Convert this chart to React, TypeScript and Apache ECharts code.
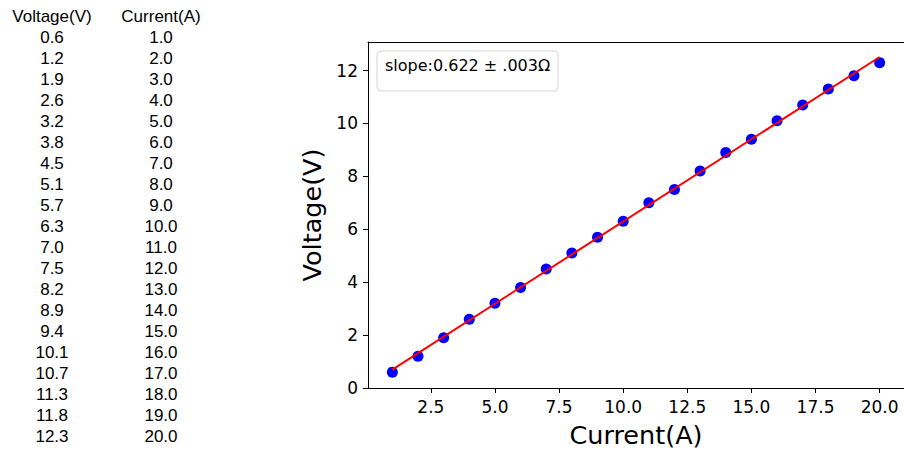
import React, { useEffect, useRef } from "react";
import * as echarts from "echarts";

const currents = [1, 2, 3, 4, 5, 6, 7, 8, 9, 10, 11, 12, 13, 14, 15, 16, 17, 18, 19, 20];
const voltages = [0.6, 1.2, 1.9, 2.6, 3.2, 3.8, 4.5, 5.1, 5.7, 6.3, 7.0, 7.5, 8.2, 8.9, 9.4, 10.1, 10.7, 11.3, 11.8, 12.3];
const fitX = [1, 20];
const fitY = [0.696, 12.514];
const xTicks = [2.5, 5, 7.5, 10, 12.5, 15, 17.5, 20];
const yTicks = [0, 2, 4, 6, 8, 10, 12];
const tableHeaders = ["Voltage(V)", "Current(A)"];
const legendText = "slope:0.622 \u00b1 .003\u03a9";

export default function App() {
  const ref = useRef<HTMLDivElement>(null);
  useEffect(() => {
    if (!ref.current) return;
    const chart = echarts.init(ref.current, null, { renderer: "svg" });
    const tf = "Liberation Sans";
    const cf = "DejaVu Sans";
    const tfont = `17px "${tf}"`;
    const tableText: any[] = [];
    tableText.push({ type: "text", x: 52, y: 16, style: { text: tableHeaders[0], font: tfont, fill: "#000", align: "center", verticalAlign: "middle" } });
    tableText.push({ type: "text", x: 161, y: 16, style: { text: tableHeaders[1], font: tfont, fill: "#000", align: "center", verticalAlign: "middle" } });
    voltages.forEach((v, i) => {
      tableText.push({ type: "text", x: 52, y: 37 + 21 * i, style: { text: v.toFixed(1), font: tfont, fill: "#000", align: "center", verticalAlign: "middle" } });
      tableText.push({ type: "text", x: 161, y: 37 + 21 * i, style: { text: currents[i].toFixed(1), font: tfont, fill: "#000", align: "center", verticalAlign: "middle" } });
    });
    const option: any = {
      animation: false,
      backgroundColor: "#fff",
      grid: { left: 368, right: 0, top: 42, bottom: 63, containLabel: false },
      xAxis: [
        {
          type: "value",
          min: 0.05,
          max: 20.95,
          name: "Current(A)",
          nameLocation: "middle",
          nameGap: 34,
          nameTextStyle: { fontFamily: cf, fontSize: 25.5, color: "#000" },
          axisLine: { show: true, lineStyle: { color: "#000", width: 1 } },
          axisTick: { show: true, length: 5, lineStyle: { color: "#000" }, customValues: xTicks },
          axisLabel: { color: "#000", fontFamily: cf, fontSize: 17, margin: 10, customValues: xTicks, formatter: (v: number) => v.toFixed(1) },
          splitLine: { show: false },
        },
        {
          type: "value",
          position: "top",
          min: 0.05,
          max: 20.95,
          axisLine: { show: true, onZero: false, lineStyle: { color: "#000", width: 1 } },
          axisTick: { show: false },
          axisLabel: { show: false },
          splitLine: { show: false },
        },
      ],
      yAxis: {
        type: "value",
        min: 0,
        max: 13.08,
        name: "Voltage(V)",
        nameLocation: "middle",
        nameGap: 37,
        nameTextStyle: { fontFamily: cf, fontSize: 25.5, color: "#000" },
        axisLine: { show: true, lineStyle: { color: "#000", width: 1 } },
        axisTick: { show: true, length: 5, lineStyle: { color: "#000" }, customValues: yTicks },
        axisLabel: { color: "#000", fontFamily: cf, fontSize: 17, margin: 10, customValues: yTicks },
        splitLine: { show: false },
      },
      series: [
        {
          type: "scatter",
          data: currents.map((c, i) => [c, voltages[i]]),
          symbolSize: 11,
          itemStyle: { color: "#0000ff", opacity: 1 },
          z: 2,
        },
        {
          type: "line",
          data: fitX.map((x, i) => [x, fitY[i]]),
          showSymbol: false,
          symbol: "none",
          lineStyle: { color: "#ff0000", width: 2 },
          z: 3,
        },
      ],
      graphic: [
        ...tableText,
        {
          type: "rect",
          shape: { x: 377, y: 51, width: 181, height: 40, r: 4 },
          style: { fill: "#fff", stroke: "#d6d6d6", lineWidth: 1 },
          z: 10,
        },
        {
          type: "text",
          x: 385,
          y: 65,
          style: { text: legendText, font: `16px "${cf}"`, fill: "#000", align: "left", verticalAlign: "middle" },
          z: 11,
        },
      ],
    };
    chart.setOption(option);
    return () => chart.dispose();
  }, []);
  return <div ref={ref} style={{ position: "fixed", left: 0, top: 0, width: 904, height: 453 }} />;
}
